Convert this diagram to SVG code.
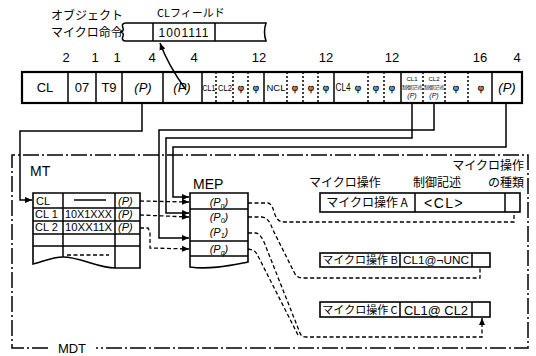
<svg xmlns="http://www.w3.org/2000/svg" width="536" height="356" viewBox="0 0 536 356">
<style>
.t{font-family:"Liberation Sans","Noto Sans CJK JP",sans-serif;fill:#000}
.j{font-family:"Noto Sans CJK JP","Liberation Sans",sans-serif;fill:#000}
.p{font-family:"Liberation Serif","DejaVu Serif",serif;fill:#000;stroke:#000;stroke-width:0.3}
.b{fill:#fff;stroke:#000;stroke-width:1.6}
.bx{fill:none;stroke:#000;stroke-width:2.2}
.s{fill:none;stroke:#000;stroke-width:1.5}
.d{fill:none;stroke:#000;stroke-width:1.3;stroke-dasharray:4 2.5}
.dv{fill:none;stroke:#000;stroke-width:1.5;stroke-dasharray:2 2}
.dd{fill:none;stroke:#000;stroke-width:1.5;stroke-dasharray:16 3 2 3}
.it{font-style:italic}
</style>
<defs>
<marker id="ah" markerWidth="8" markerHeight="8" refX="7" refY="4" orient="auto" markerUnits="userSpaceOnUse">
<path d="M0,1 L7,4 L0,7 Z" fill="#000"/>
</marker>
</defs>

<g id="mdt">
<path class="dd" d="M48,348 L12,348 L12,155 L528,155 L528,348 L96,348"/>
<text class="t" x="72" y="353" font-size="13" text-anchor="middle">MDT</text>
</g>

<g id="object">
<text class="j" x="51" y="20" font-size="12">オブジェクト</text>
<text class="j" x="51" y="37" font-size="12">マイクロ命令</text>
<path class="s" d="M126,23 L266,23 Q263,32 266,41 L126,41 Q121,41 123,36 Q124,32 120,32 Q124,32 123,28 Q121,23 126,23 Z"/>
<line class="s" x1="153" y1="23" x2="153" y2="41"/>
<line class="s" x1="215" y1="23" x2="215" y2="41"/>
<text class="t" x="184" y="37" font-size="12" text-anchor="middle" letter-spacing="1">1001111</text>
<text class="j" x="157" y="17" font-size="11">CLフィールド</text>
</g>

<g id="register">
<rect class="bx" x="22" y="72" width="500" height="31"/>
<g class="s">
<line x1="68" y1="72" x2="68" y2="103"/><line x1="96" y1="72" x2="96" y2="103"/>
<line x1="122" y1="72" x2="122" y2="103"/><line x1="163" y1="72" x2="163" y2="103"/>
<line x1="202" y1="72" x2="202" y2="103"/><line x1="264" y1="72" x2="264" y2="103"/>
<line x1="334" y1="72" x2="334" y2="103"/><line x1="401" y1="72" x2="401" y2="103"/>
<line x1="492" y1="72" x2="492" y2="103"/>
</g>
<g class="dv">
<line x1="216" y1="72" x2="216" y2="103"/><line x1="233" y1="72" x2="233" y2="103"/><line x1="248" y1="72" x2="248" y2="103"/>
<line x1="287" y1="72" x2="287" y2="103"/><line x1="303" y1="72" x2="303" y2="103"/><line x1="318" y1="72" x2="318" y2="103"/>
<line x1="368" y1="72" x2="368" y2="103"/><line x1="384" y1="72" x2="384" y2="103"/>
<line x1="423" y1="72" x2="423" y2="103"/><line x1="445" y1="72" x2="445" y2="103"/><line x1="468" y1="72" x2="468" y2="103"/>
</g>
<g class="t" font-size="13" text-anchor="middle">
<text x="66" y="62">2</text><text x="95" y="62">1</text><text x="117" y="62">1</text>
<text x="152" y="62">4</text><text x="194" y="62">4</text><text x="259" y="62">12</text>
<text x="326" y="62">12</text><text x="392" y="62">12</text><text x="480" y="62">16</text><text x="517" y="62">4</text>
</g>
<g class="t" font-size="13" text-anchor="middle">
<text x="45" y="92">CL</text><text x="82" y="92">07</text><text x="109" y="92">T9</text>
<text class="it" x="143" y="92">(P)</text><text class="it" x="182" y="92">(P)</text>
<text class="it" x="507" y="92">(P)</text>
</g>
<g class="t" font-size="9" text-anchor="middle">
<text x="209" y="91" textLength="13" lengthAdjust="spacingAndGlyphs">CL1</text>
<text x="225" y="91" textLength="14" lengthAdjust="spacingAndGlyphs">CL2</text>
<text x="276" y="91" textLength="19" lengthAdjust="spacingAndGlyphs">NCL</text>
<text x="343" y="91" font-size="10" textLength="15" lengthAdjust="spacingAndGlyphs">CL4</text>
</g>
<g class="p" font-size="11" text-anchor="middle">
<text x="241" y="91">φ</text><text x="256" y="91">φ</text>
<text x="295" y="91">φ</text><text x="311" y="91">φ</text><text x="326" y="91">φ</text>
<text x="358" y="91">φ</text><text x="376" y="91">φ</text><text x="392" y="91">φ</text>
<text x="456" y="91">φ</text><text x="481" y="91">φ</text>
</g>
<g font-size="6" text-anchor="middle">
<text class="t" x="412" y="81">CL1</text><text class="t" x="434" y="81">CL2</text>
<text class="j" x="412" y="89" font-size="5">制御記述</text><text class="j" x="434" y="89" font-size="5">制御記述</text>
<text class="t it" x="412" y="98" font-size="7">(P)</text><text class="t it" x="434" y="98" font-size="7">(P)</text>
</g>
</g>

<g id="mt">
<text class="t" x="30" y="176" font-size="14">MT</text>
<path class="b" d="M33,193 L140,193 L140,268 C130,268 122,268 115,268 C98,268 80,257 63,257 C52,257 42,262 33,264 Z"/>
<g class="s">
<line x1="63" y1="193" x2="63" y2="257"/><line x1="115" y1="193" x2="115" y2="268"/>
<line x1="33" y1="208" x2="140" y2="208"/><line x1="33" y1="221" x2="140" y2="221"/>
<line x1="33" y1="234" x2="140" y2="234"/><line x1="33" y1="246" x2="140" y2="246"/>
<line x1="74" y1="200" x2="106" y2="200"/>
</g>
<line class="d" x1="67" y1="255" x2="109" y2="255" stroke-dasharray="3 3"/>
<g class="t" font-size="11">
<text x="36" y="205">CL</text><text x="35" y="218">CL 1</text><text x="35" y="231">CL 2</text>
<text x="65" y="218" font-size="10" textLength="47" lengthAdjust="spacingAndGlyphs">10X1XXX</text>
<text x="65" y="231" font-size="10" textLength="47" lengthAdjust="spacingAndGlyphs">10XX11X</text>
<text class="it" x="118" y="205">(P)</text><text class="it" x="118" y="218">(P)</text><text class="it" x="118" y="231">(P)</text>
</g>
</g>

<g id="mep">
<text class="t" x="193" y="189" font-size="14">MEP</text>
<path class="b" d="M190,193 L248,193 L248,262 C232,265 210,270 190,267 Z"/>
<g class="s">
<line x1="190" y1="209" x2="248" y2="209"/><line x1="190" y1="241" x2="248" y2="241"/>
<line x1="190" y1="256" x2="248" y2="256"/>
</g>
<g class="t it" font-size="11" text-anchor="middle">
<text x="219" y="206">(P<tspan font-size="7" dy="2">n</tspan><tspan dy="-2">)</tspan></text>
<text x="219" y="221">(P<tspan font-size="7" dy="2">0</tspan><tspan dy="-2">)</tspan></text>
<text x="219" y="236">(P<tspan font-size="7" dy="2">1</tspan><tspan dy="-2">)</tspan></text>
<text x="219" y="253">(P<tspan font-size="7" dy="2">q</tspan><tspan dy="-2">)</tspan></text>
</g>
</g>

<g id="headers" class="j" font-size="12">
<text x="345" y="187" text-anchor="middle">マイクロ操作</text>
<text x="437" y="187" text-anchor="middle">制御記述</text>
<text x="524" y="170" text-anchor="end">マイクロ操作</text>
<text x="524" y="187" text-anchor="end">の種類</text>
</g>

<g id="opA">
<rect class="b" x="320" y="193" width="200" height="19"/>
<line class="s" x1="415" y1="193" x2="415" y2="212"/><line class="s" x1="505" y1="193" x2="505" y2="212"/>
<text class="j" x="367" y="207" font-size="12" text-anchor="middle">マイクロ操作 A</text>
<text class="t" x="424" y="208" font-size="14" letter-spacing="1.5">&lt;CL&gt;</text>
</g>
<g id="opB">
<rect class="b" x="320" y="253" width="170" height="14"/>
<line class="s" x1="400" y1="253" x2="400" y2="267"/><line class="s" x1="472" y1="253" x2="472" y2="267"/>
<text class="j" x="360" y="264" font-size="11" text-anchor="middle">マイクロ操作 B</text>
<text class="t" x="436" y="264" font-size="11" text-anchor="middle" textLength="66" lengthAdjust="spacingAndGlyphs">CL1@¬UNC</text>
</g>
<g id="opC">
<rect class="b" x="320" y="302" width="170" height="15"/>
<line class="s" x1="400" y1="302" x2="400" y2="317"/><line class="s" x1="472" y1="302" x2="472" y2="317"/>
<text class="j" x="360" y="314" font-size="11" text-anchor="middle">マイクロ操作 C</text>
<text class="t" x="436" y="315" font-size="13" text-anchor="middle" textLength="64" lengthAdjust="spacingAndGlyphs">CL1@ CL2</text>
</g>

<g id="connectors">
<path class="s" d="M186,90 Q168,65 160,43" marker-end="url(#ah)"/>
<path class="s" d="M142,103 L142,131 L20,131 L20,200 L32,200" marker-end="url(#ah)"/>
<path class="s" d="M434,103 L434,130 L159,130 L159,238 L189,238" marker-end="url(#ah)"/>
<path class="s" d="M412,103 L412,138 L166,138 L166,213 L189,213" marker-end="url(#ah)"/>
<path class="s" d="M506,103 L506,147 L173,147 L173,197 L189,197" marker-end="url(#ah)"/>
<path class="d" d="M140,201 L189,202" marker-end="url(#ah)"/>
<path class="d" d="M140,215 L189,217" marker-end="url(#ah)"/>
<path class="d" d="M140,228 L148,228 L150,232 L150,248 L189,249" marker-end="url(#ah)"/>
<path class="d" d="M248,203 L268,203 C276,205 272,222 284,222 L514,222 L514,212"/>
<path class="d" d="M248,217 L262,217 C268,218 270,222 273,230 L294,272 C296,276 298,278 304,278 L480,278 L480,267"/>
<path class="d" d="M248,233 L256,233 C260,234 262,238 264,242 L300,333 C301,336 303,337 306,337 L482,337 L482,318" marker-end="url(#ah)"/>
<path class="d" d="M248,249 L253,250 C256,252 257,254 258,256 L298,335"/>
</g>
</svg>
